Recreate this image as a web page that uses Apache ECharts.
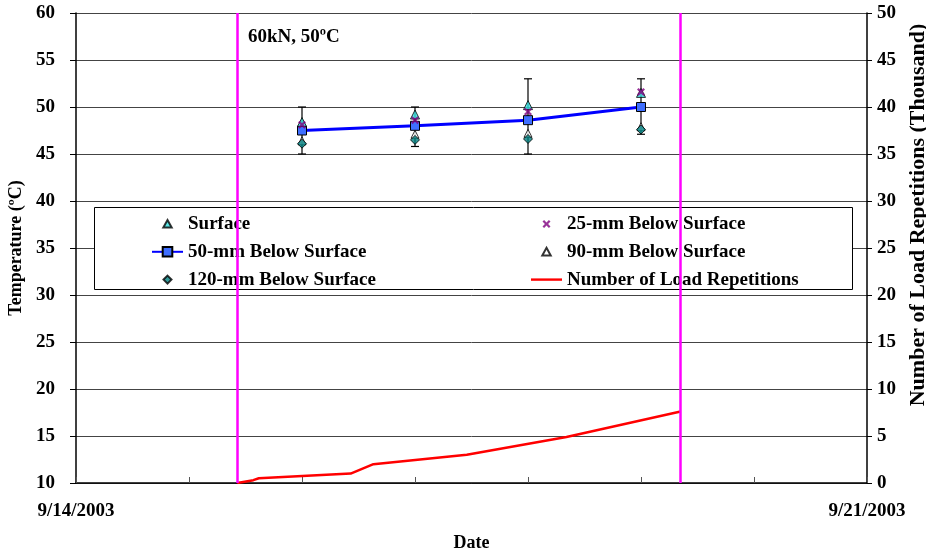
<!DOCTYPE html>
<html>
<head>
<meta charset="utf-8">
<script src="https://cdn.jsdelivr.net/npm/echarts@6/dist/echarts.min.js"></script>
<style>
  html, body { margin: 0; padding: 0; background: #fff; }
  #chart { width: 926px; height: 555px; }
</style>
</head>
<body>
<div id="chart"></div>
<script>
// Temperature readings at four depths plus the cumulative load count for the 60 kN / 50 °C run.
const DAY = 86400000;
function toTime(s) {
  const parts = s.split(' ');
  const d = parts[0].split('-').map(Number);
  const t = (parts[1] || '00:00').split(':').map(Number);
  return Date.UTC(d[0], d[1] - 1, d[2], t[0], t[1]);
}

const axisStart = '2003-09-14';
const axisEnd = '2003-09-21';

const readingDates = ['2003-09-16', '2003-09-17', '2003-09-18', '2003-09-19'];
const surfaceTemp = [48.4, 49.2, 50.2, 51.5];
const temp25mm   = [48.1, 48.6, 49.5, 51.6];
const temp50mm   = [47.5, 48.0, 48.6, 50.0];
const temp90mm   = [46.4, 47.1, 47.2, 47.9];
const temp120mm  = [46.1, 46.5, 46.6, 47.6];
const rangeLow   = [45.0, 45.8, 45.0, 47.1];
const rangeHigh  = [50.0, 50.0, 53.0, 53.0];

const loadTimes = ['2003-09-15 10:15', '2003-09-15 13:40', '2003-09-15 14:50', '2003-09-16 10:20',
                   '2003-09-16 15:10', '2003-09-17 11:00', '2003-09-18 08:10', '2003-09-19 08:25'];
const loadReps = [0, 0.3, 0.5, 1.0, 2.0, 3.0, 4.9, 7.6];

const testStart = '2003-09-15 10:15';
const testEnd = '2003-09-19 08:25';

const pair = (times, vals) => times.map((t, i) => [toTime(t), vals[i]]);

const FONT = 'Liberation Serif';
const txt = { fontFamily: FONT, fontWeight: 'bold', fontSize: 19, color: '#000' };
const xMin = toTime(axisStart), xMax = toTime(axisEnd);

function fmtDate(v) {
  if (v !== xMin && v !== xMax) return '';
  const d = new Date(v);
  return (d.getUTCMonth() + 1) + '/' + d.getUTCDate() + '/' + d.getUTCFullYear();
}

const crossPath = 'path://M0,2L2,0L5,3L8,0L10,2L7,5L10,8L8,10L5,7L2,10L0,8L3,5Z';

// Legend icons: small glyphs centred in a 31x12 box (the trailing moves keep the box size).
const PAD = ' M0,0 M31,12';
const iconTri = 'path://M15.5,2L19.7,9.6L11.3,9.6Z' + PAD;
const iconDiamond = 'path://M15.5,2L19.5,6L15.5,10L11.5,6Z' + PAD;
const iconCross = 'path://M11.5,3.6L13.1,2L15.5,4.4L17.9,2L19.5,3.6L17.1,6L19.5,8.4L17.9,10L15.5,7.6L13.1,10L11.5,8.4L13.9,6Z' + PAD;
const iconLine = 'path://M0,4.8L31,4.8L31,7.2L0,7.2Z' + PAD;

const chart = echarts.init(document.getElementById('chart'));
chart.setOption({
  animation: false,
  backgroundColor: '#fff',
  grid: { left: 76, right: 59, top: 13, bottom: 72, outerBoundsMode: 'none', containLabel: false },
  xAxis: {
    type: 'value', min: xMin, max: xMax, interval: DAY,
    name: 'Date', nameLocation: 'middle', nameGap: 51,
    nameTextStyle: Object.assign({}, txt, { fontSize: 18 }),
    axisLine: { lineStyle: { color: '#000', width: 1.5 } },
    axisTick: { inside: true, length: 6, lineStyle: { color: '#555' } },
    axisLabel: Object.assign({}, txt, { margin: 19, formatter: fmtDate, showMinLabel: true, showMaxLabel: true }),
    splitLine: { show: false }
  },
  yAxis: [
    {
      type: 'value', min: 10, max: 60, interval: 5,
      name: 'Temperature (ºC)', nameLocation: 'middle', nameGap: 44, nameRotate: 90,
      nameTextStyle: Object.assign({}, txt, { fontSize: 18 }),
      axisLine: { show: true, lineStyle: { color: '#000', width: 1.5 } },
      axisTick: { show: true, length: 6, lineStyle: { color: '#000' } },
      axisLabel: Object.assign({}, txt, { margin: 21 }),
      splitLine: { show: true, lineStyle: { color: '#444', width: 1 } }
    },
    {
      type: 'value', min: 0, max: 50, interval: 5,
      name: 'Number of Load Repetitions (Thousand)', nameLocation: 'middle', nameGap: 28, nameRotate: 90,
      nameTextStyle: Object.assign({}, txt, { fontSize: 22, padding: [0, 0, 0, 66] }),
      axisLine: { show: true, lineStyle: { color: '#000', width: 1.5 } },
      axisTick: { show: true, length: 5, lineStyle: { color: '#000' } },
      axisLabel: Object.assign({}, txt, { margin: 10 }),
      splitLine: { show: false }
    }
  ],
  legend: [
    {
      left: 146, top: 209.5, orient: 'vertical', itemWidth: 31, itemHeight: 12, itemGap: 8.8,
      textStyle: txt, z: 5,
      data: [
        { name: 'Surface', icon: iconTri },
        { name: '50-mm Below Surface' },
        { name: '120-mm Below Surface', icon: iconDiamond }
      ]
    },
    {
      left: 525, top: 209.5, orient: 'vertical', itemWidth: 31, itemHeight: 12, itemGap: 8.8,
      textStyle: txt, z: 5,
      data: [
        { name: '25-mm Below Surface', icon: iconCross },
        { name: '90-mm Below Surface', icon: iconTri },
        { name: 'Number of Load Repetitions', icon: iconLine }
      ]
    }
  ],
  graphic: [
    {
      type: 'rect', left: 94, top: 207, z: 3,
      shape: { width: 758, height: 82 },
      style: { fill: '#fff', stroke: '#000', lineWidth: 1 }
    },
    {
      type: 'text', left: 248, top: 28, z: 5,
      style: { text: '60kN, 50ºC', font: 'bold 19px "Liberation Serif"', fill: '#000' }
    }
  ],
  series: [
    {
      name: 'range', type: 'custom', yAxisIndex: 0, z: 2,
      data: readingDates.map((t, i) => [toTime(t), rangeLow[i], rangeHigh[i]]),
      encode: { x: 0, y: [1, 2] },
      renderItem: function (params, api) {
        const x = api.value(0);
        const lo = api.coord([x, api.value(1)]);
        const hi = api.coord([x, api.value(2)]);
        const w = 4;
        const st = { stroke: '#000', lineWidth: 1.2 };
        return {
          type: 'group',
          children: [
            { type: 'line', shape: { x1: lo[0], y1: lo[1], x2: hi[0], y2: hi[1] }, style: st },
            { type: 'line', shape: { x1: lo[0] - w, y1: lo[1], x2: lo[0] + w, y2: lo[1] }, style: st },
            { type: 'line', shape: { x1: hi[0] - w, y1: hi[1], x2: hi[0] + w, y2: hi[1] }, style: st }
          ]
        };
      }
    },
    {
      name: '50-mm Below Surface', type: 'line', yAxisIndex: 0, z: 3,
      data: pair(readingDates, temp50mm),
      symbol: 'rect', symbolSize: 9,
      lineStyle: { color: '#0000FF', width: 3 },
      itemStyle: { color: '#3F6FFF', borderColor: '#000', borderWidth: 1 }
    },
    {
      name: '90-mm Below Surface', type: 'scatter', yAxisIndex: 0, z: 4,
      data: pair(readingDates, temp90mm),
      symbol: 'triangle', symbolSize: 8,
      itemStyle: { color: '#fff', borderColor: '#000', borderWidth: 1 }
    },
    {
      name: '120-mm Below Surface', type: 'scatter', yAxisIndex: 0, z: 4,
      data: pair(readingDates, temp120mm),
      symbol: 'diamond', symbolSize: 9,
      itemStyle: { color: '#008080', borderColor: '#000', borderWidth: 1 }
    },
    {
      name: 'Surface', type: 'scatter', yAxisIndex: 0, z: 4,
      data: pair(readingDates, surfaceTemp),
      symbol: 'triangle', symbolSize: 9,
      itemStyle: { color: '#33E0E0', borderColor: '#000', borderWidth: 1 }
    },
    {
      name: '25-mm Below Surface', type: 'scatter', yAxisIndex: 0, z: 4,
      data: pair(readingDates, temp25mm),
      symbol: crossPath, symbolSize: 8,
      itemStyle: { color: '#800080' }
    },
    {
      name: 'Number of Load Repetitions', type: 'line', yAxisIndex: 1, z: 3,
      data: pair(loadTimes, loadReps),
      symbol: 'none',
      lineStyle: { color: '#FF0000', width: 2.5 },
      itemStyle: { color: '#FF0000' }
    },
    {
      name: 'test period', type: 'line', yAxisIndex: 0, z: 6,
      data: [],
      markLine: {
        silent: true, symbol: 'none', label: { show: false },
        lineStyle: { color: '#FF00FF', width: 2.5, type: 'solid' },
        data: [{ xAxis: toTime(testStart) }, { xAxis: toTime(testEnd) }]
      }
    }
  ]
});
</script>
</body>
</html>
